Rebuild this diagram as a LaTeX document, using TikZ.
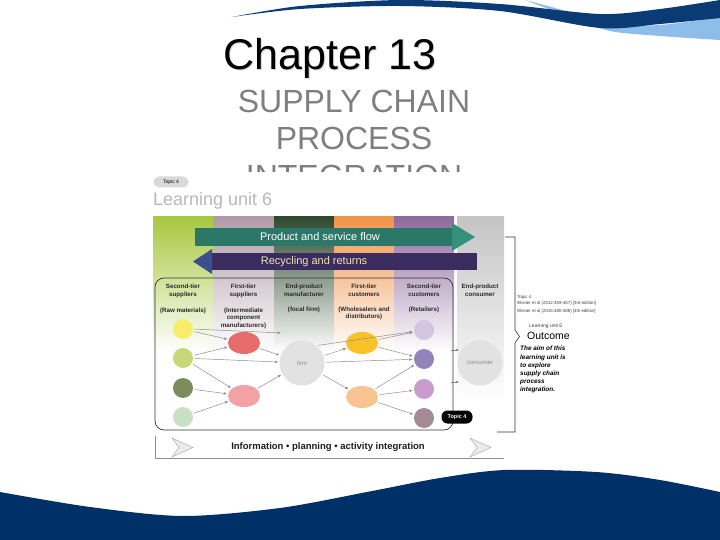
\documentclass[tikz,border=0pt]{standalone}
\usepackage{fontspec}
\setmainfont{Liberation Sans}
\usepackage{tikz}
\usetikzlibrary{arrows.meta, shapes.geometric, positioning, calc}
\definecolor{swoopblue}{HTML}{0B3B74}
\definecolor{swooplight}{HTML}{8DBDE8}
\definecolor{wavenavy}{HTML}{003068}
\definecolor{titlegray}{HTML}{7F7F7F}
\definecolor{colgreen}{HTML}{A8C840}
\definecolor{colmauve}{HTML}{B09AA6}
\definecolor{colforest}{HTML}{2E4A2E}
\definecolor{colorange}{HTML}{F0944A}
\definecolor{colpurple}{HTML}{8E6A9E}
\definecolor{colgray}{HTML}{C4C4C4}
\definecolor{flowteal}{HTML}{2C7868}
\definecolor{flowtealhead}{HTML}{33907A}
\definecolor{retindigo}{HTML}{3A2C5E}
\definecolor{retblue}{HTML}{3C4E8E}
\definecolor{rettext}{HTML}{F2E6B0}
\definecolor{hdrtext}{HTML}{2A2A2A}
\definecolor{linkgray}{HTML}{858585}
\definecolor{hubfill}{HTML}{E2E2E2}
\definecolor{hubtext}{HTML}{8A8A8A}
\definecolor{dotyellow}{HTML}{F6EE6A}
\definecolor{dotlime}{HTML}{C8D878}
\definecolor{dotolive}{HTML}{7C8C5C}
\definecolor{dotmint}{HTML}{C8E0C4}
\definecolor{ellred}{HTML}{E86C6C}
\definecolor{ellpink}{HTML}{F2A2A2}
\definecolor{ellamber}{HTML}{F8C228}
\definecolor{ellpeach}{HTML}{F8C492}
\definecolor{dotlav}{HTML}{D2C4E2}
\definecolor{dotviolet}{HTML}{9482BA}
\definecolor{dotorchid}{HTML}{C89CCC}
\definecolor{dotmauve}{HTML}{A48A94}

\begin{document}
\begin{tikzpicture}[
    x=1pt, y=-1pt,
    title/.style  = {font=\fontsize{43}{43}\selectfont, anchor=base, inner sep=0pt},
    subtitle/.style = {font=\fontsize{32}{32}\selectfont, text=titlegray, anchor=base, inner sep=0pt},
    hdr/.style    = {font=\fontsize{6.2}{7.4}\selectfont\bfseries, text=hdrtext,
                     align=center, anchor=north, inner sep=0pt},
    dot/.style    = {circle, minimum size=20pt, inner sep=0pt},
    ell/.style    = {ellipse, minimum width=32pt, minimum height=22pt, inner sep=0pt},
    hub/.style    = {circle, minimum size=45pt, inner sep=0pt, fill=hubfill,
                     text=hubtext, font=\fontsize{6}{7}\selectfont},
    pill/.style   = {rounded corners=6pt, minimum width=31pt, minimum height=13pt,
                     inner sep=0pt, font=\fontsize{5.5}{6}\selectfont\bfseries},
    link/.style   = {-{Stealth[length=3.2pt, width=2.6pt]}, line width=0.45pt,
                     draw=linkgray, shorten >=1.5pt, shorten <=1.5pt},
    reftxt/.style = {font=\fontsize{4.4}{5}\selectfont, text=black!75,
                     anchor=west, inner sep=0pt},
  ]
  \useasboundingbox (0,0) rectangle (720,540);

  %% Slide decoration
  \fill[swooplight] plot[smooth] coordinates {(525,0) (570,12) (610,24) (660,25) (720,17)}
    -- (720,40) -- plot[smooth] coordinates {(720,40) (660,36) (610,31) (570,17) (525,0)} -- cycle;
  \fill[swoopblue] plot[smooth] coordinates {(232,17) (300,6) (400,0) (500,4) (600,14) (660,9) (720,0)}
    -- (720,18) -- plot[smooth] coordinates {(720,18) (660,24) (600,28) (500,11) (400,6) (300,9) (232,17)} -- cycle;
  \fill[wavenavy] plot[smooth] coordinates {(0,492) (90,507) (183,516) (280,508) (367,492)
    (440,478) (505,470) (596,472) (660,480) (720,492)} -- (720,540) -- (0,540) -- cycle;

  %% Titles
  \node[title, text=black!18] at (331,71) {Chapter 13};
  \node[title] (chap) at (330,70) {Chapter 13};
  \node[subtitle] (sub1) at (354,113) {SUPPLY CHAIN};
  \node[subtitle] (sub2) at (354,150) {PROCESS};
  \node[subtitle] (sub3) at (354,188) {INTEGRATION};

  %% Figure background
  \fill[white] (152,172) rectangle (614,462);
  \node[pill, fill=black!15, minimum width=35pt, minimum height=11pt,
        font=\fontsize{5}{6}\selectfont] (topicA) at (171,182) {Topic 4};
  \node[font=\fontsize{18}{19}\selectfont, text=black!28, anchor=base west,
        inner sep=0pt] (lunit) at (153,206) {Learning unit 6};

  %% Column bands
  \shade[top color=colgreen,  middle color=colgreen!55,  bottom color=white] (153,217) rectangle (213,352);
  \shade[top color=colmauve,  middle color=colmauve!55,  bottom color=white] (213,217) rectangle (274,352);
  \shade[top color=colforest, middle color=colforest!60, bottom color=white] (274,217) rectangle (334,352);
  \shade[top color=colorange, middle color=colorange!55, bottom color=white] (334,217) rectangle (394,352);
  \shade[top color=colpurple, middle color=colpurple!55, bottom color=white] (394,217) rectangle (454,352);
  \shade[top color=colgray,   middle color=colgray!50,   bottom color=white] (457,217) rectangle (504,400);

  %% Flow arrows
  \fill[flowteal] (195,228) -- (453,228) -- (453,246) -- (195,246) -- cycle;
  \fill[flowtealhead] (452,223) -- (475,237) -- (452,251) -- cycle;
  \node[font=\fontsize{11}{12}\selectfont, text=white] (prodflow) at (320,237) {Product and service flow};
  \fill[retindigo] (211,253) -- (477,253) -- (477,270) -- (211,270) -- cycle;
  \fill[retblue] (212,249) -- (193,261.5) -- (212,274) -- cycle;
  \node[font=\fontsize{11}{12}\selectfont, text=rettext] (recycle) at (314,262) {Recycling and returns};

  %% Focal frame
  \draw[line width=0.7pt, draw=black!80, rounded corners=9pt] (155,278) rectangle (453,430);

  %% Column headers
  \node[hdr] (h1) at (183,284) {Second-tier\\suppliers};
  \node[hdr] (h2) at (243.5,284) {First-tier\\suppliers};
  \node[hdr] (h3) at (304,284) {End-product\\manufacturer};
  \node[hdr] (h4) at (364,284) {First-tier\\customers};
  \node[hdr] (h5) at (424,284) {Second-tier\\customers};
  \node[hdr] (h6) at (480,284) {End-product\\consumer};
  \node[hdr, below=10pt of h1] (s1) {(Raw materials)};
  \node[hdr, below=10pt of h2] (s2) {(Intermediate\\component\\manufacturers)};
  \node[hdr, below=10pt of h3] (s3) {(focal firm)};
  \node[hdr, below=10pt of h4] (s4) {(Wholesalers and\\distributors)};
  \node[hdr, below=10pt of h5] (s5) {(Retailers)};

  %% Chain members
  \node[dot, fill=dotyellow] (yel) at (183,329) {};
  \node[dot, fill=dotlime]   (lgr) at (183,358) {};
  \node[dot, fill=dotolive]  (olv) at (183,388) {};
  \node[dot, fill=dotmint]   (pgr) at (183,417) {};
  \node[ell, fill=ellred]    (red) at (244,343) {};
  \node[ell, fill=ellpink]   (pnk) at (244,396) {};
  \node[hub] (firm) at (302,363) {firm};
  \node[ell, fill=ellamber]  (org) at (362,343) {};
  \node[ell, fill=ellpeach]  (pch) at (362,397) {};
  \node[dot, fill=dotlav]    (lav) at (424,330) {};
  \node[dot, fill=dotviolet] (pur) at (424,359) {};
  \node[dot, fill=dotorchid] (orc) at (424,389) {};
  \node[dot, fill=dotmauve]  (mve) at (424,418) {};
  \node[hub] (cons) at (480,363) {consumer};
  \node[pill, fill=black, text=white] (topicB) at (457,417) {Topic 4};

  %% Links
  \coordinate (yelend) at (282,333);
  \draw[link] (yel.east) -- (yelend);
  \draw[link] (yel) -- (red);
  \draw[link] (lgr) -- (red);
  \draw[link] (lgr) -- (firm);
  \draw[link] (lgr) -- (pnk);
  \draw[link] (olv) -- (pnk);
  \draw[link] (pgr) -- (pnk);
  \draw[link] (red) -- (firm);
  \draw[link] (pnk) -- (firm);
  \draw[link] (firm) -- (org);
  \draw[link] (firm.50) -- (lav);
  \draw[link] (firm) -- (pur);
  \draw[link] (firm) -- (pch);
  \draw[link] (org) -- (lav);
  \draw[link] (org) -- (pur);
  \draw[link] (pch) -- (pur);
  \draw[link] (pch) -- (orc);
  \draw[link] (pch) -- (mve);
  \coordinate (outA) at (451,350);
  \coordinate (inA)  at (459,350);
  \coordinate (outB) at (451,382);
  \coordinate (inB)  at (459,382);
  \draw[link, shorten <=0pt, shorten >=0pt] (outA) -- (inA);
  \draw[link, shorten <=0pt, shorten >=0pt] (outB) -- (inB);

  %% Integration band
  \draw[black!45, line width=0.6pt] (155,436) -- (155,458) -- (504,458);
  \filldraw[fill=black!8, draw=black!35, line width=0.4pt]
    (172,438) -- (193,447.5) -- (172,457) -- (179,447.5) -- cycle;
  \filldraw[fill=black!8, draw=black!35, line width=0.4pt]
    (470,438) -- (491,447.5) -- (470,457) -- (477,447.5) -- cycle;
  \node[font=\fontsize{9.5}{10}\selectfont\bfseries, text=black!88] (integ) at (328,447)
    {Information • planning • activity integration};

  %% Side panel
  \draw[line width=0.6pt, draw=black!80] (505,237) -- (515,237) -- (515,330)
    -- (519.5,336.5) -- (515,343) -- (515,432) -- (497,432);
  \node[reftxt] (rtopic) at (517,297) {Topic 4};
  \node[reftxt] (wis3) at (517,303.5) {Wisner et al (2012:459-467) [3rd edition]};
  \node[reftxt] (wis4) at (517,311) {Wisner et al (2015:480-488) [4th edition]};
  \node[reftxt, font=\fontsize{5}{6}\selectfont] (lu6) at (529,326) {Learning unit 6};
  \node[reftxt, font=\fontsize{10.5}{11}\selectfont, text=black] (outc) at (527,336) {Outcome};
  \node[font=\fontsize{6.4}{8.2}\selectfont\bfseries\itshape, align=left,
        anchor=north west, inner sep=0pt] (aim) at (520,346)
    {The aim of this\\learning unit is\\to explore\\supply chain\\process\\integration.};

\end{tikzpicture}
\end{document}
